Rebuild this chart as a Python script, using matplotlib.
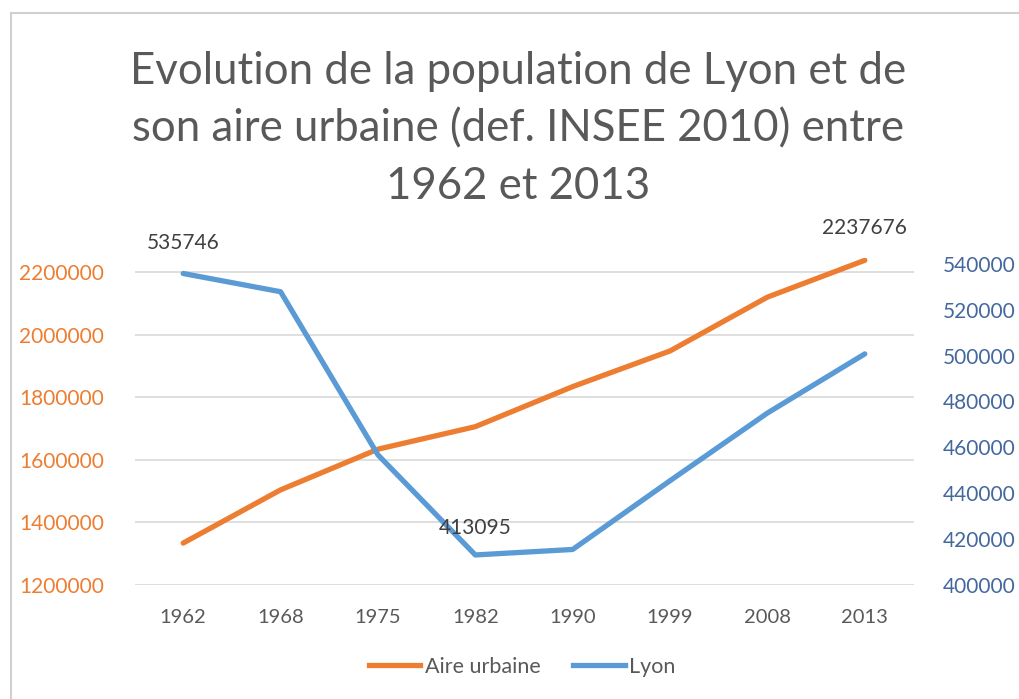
import matplotlib
matplotlib.use("Agg")
import matplotlib.pyplot as plt
from matplotlib.lines import Line2D
import numpy as np

# donnees
annees = ["1962", "1968", "1975", "1982", "1990", "1999", "2008", "2013"]
aire_urbaine = [1334000, 1504000, 1634000, 1706000, 1834000, 1948000, 2120000, 2237676]
lyon = [535746, 527800, 456716, 413095, 415487, 445452, 474946, 500715]
gauche_ticks = [1200000, 1400000, 1600000, 1800000, 2000000, 2200000]
droite_ticks = [400000, 420000, 440000, 460000, 480000, 500000, 520000, 540000]
titre = "Evolution de la population de Lyon et de\nson aire urbaine (def. INSEE 2010) entre\n1962 et 2013"

orange = "#ED7D31"
bleu = "#5B9BD5"
gris = "#595959"

plt.rcParams['font.family'] = ['Lato', 'DejaVu Sans']

fig = plt.figure(figsize=(10.19, 6.99), dpi=100)
ax = fig.add_axes([134.5 / 1019, 114 / 699, 779 / 1019, 327 / 699])
ax2 = ax.twinx()

x = np.arange(len(annees))
ax.plot(x, aire_urbaine, color=orange, lw=3.8, solid_capstyle="round", zorder=3)
ax2.plot(x, lyon, color=bleu, lw=3.8, solid_capstyle="round", zorder=3)

ax.set_xlim(-0.5, len(annees) - 0.5)
ax.set_ylim(1200000, 2245000)
ax2.set_ylim(400000, 542500)
ax.set_yticks(gauche_ticks)
ax.set_yticklabels([str(v) for v in gauche_ticks])
ax2.set_yticks(droite_ticks)
ax2.set_yticklabels([str(v) for v in droite_ticks])
ax.set_xticks(x)
ax.set_xticklabels(annees)

ax.grid(axis="y", color="#D9D9D9", lw=1.2)
ax.set_axisbelow(True)
for a in (ax, ax2):
    for s in a.spines.values():
        s.set_visible(False)
ax.tick_params(axis="y", length=0, pad=22, labelsize=15, labelcolor=orange)
ax2.tick_params(axis="y", length=0, pad=21, labelsize=15, labelcolor="#44689E")
ax.tick_params(axis="x", length=0, pad=17, labelsize=14.5, labelcolor=gris)

# etiquettes de donnees
i_min = int(np.argmin(lyon))
ax2.annotate(str(lyon[0]), (0, lyon[0]), xytext=(0, 15), textcoords="offset points",
             ha="center", va="bottom", fontsize=15, color="#404040")
ax2.annotate(str(lyon[i_min]), (i_min, lyon[i_min]), xytext=(0, 12), textcoords="offset points",
             ha="center", va="bottom", fontsize=15, color="#404040")
ax.annotate(str(aire_urbaine[-1]), (len(annees) - 1, aire_urbaine[-1]), xytext=(0, 16),
            textcoords="offset points", ha="center", va="bottom", fontsize=15, color="#404040")

fig.text(518 / 1019, 1 - 129 / 699, titre, ha="center", va="center", fontsize=31.5,
         color=gris, linespacing=1.5)

handles = [Line2D([], [], color=orange, lw=3.8), Line2D([], [], color=bleu, lw=3.8)]
fig.legend(handles, ["Aire urbaine", "Lyon"], loc="center", bbox_to_anchor=(522 / 1019, 1 - 667 / 699),
           ncol=2, frameon=False, fontsize=15.5, handlelength=2.4, handletextpad=0.2,
           columnspacing=1.5, labelcolor=gris)

# cadre
fig.add_artist(Line2D([11 / 1019, 11 / 1019], [0, 1 - 13 / 699], color="#D0D0D0", lw=1.5))
fig.add_artist(Line2D([11 / 1019, 1], [1 - 13 / 699, 1 - 13 / 699], color="#D0D0D0", lw=1.5))

fig.savefig("out.png", dpi=100)
